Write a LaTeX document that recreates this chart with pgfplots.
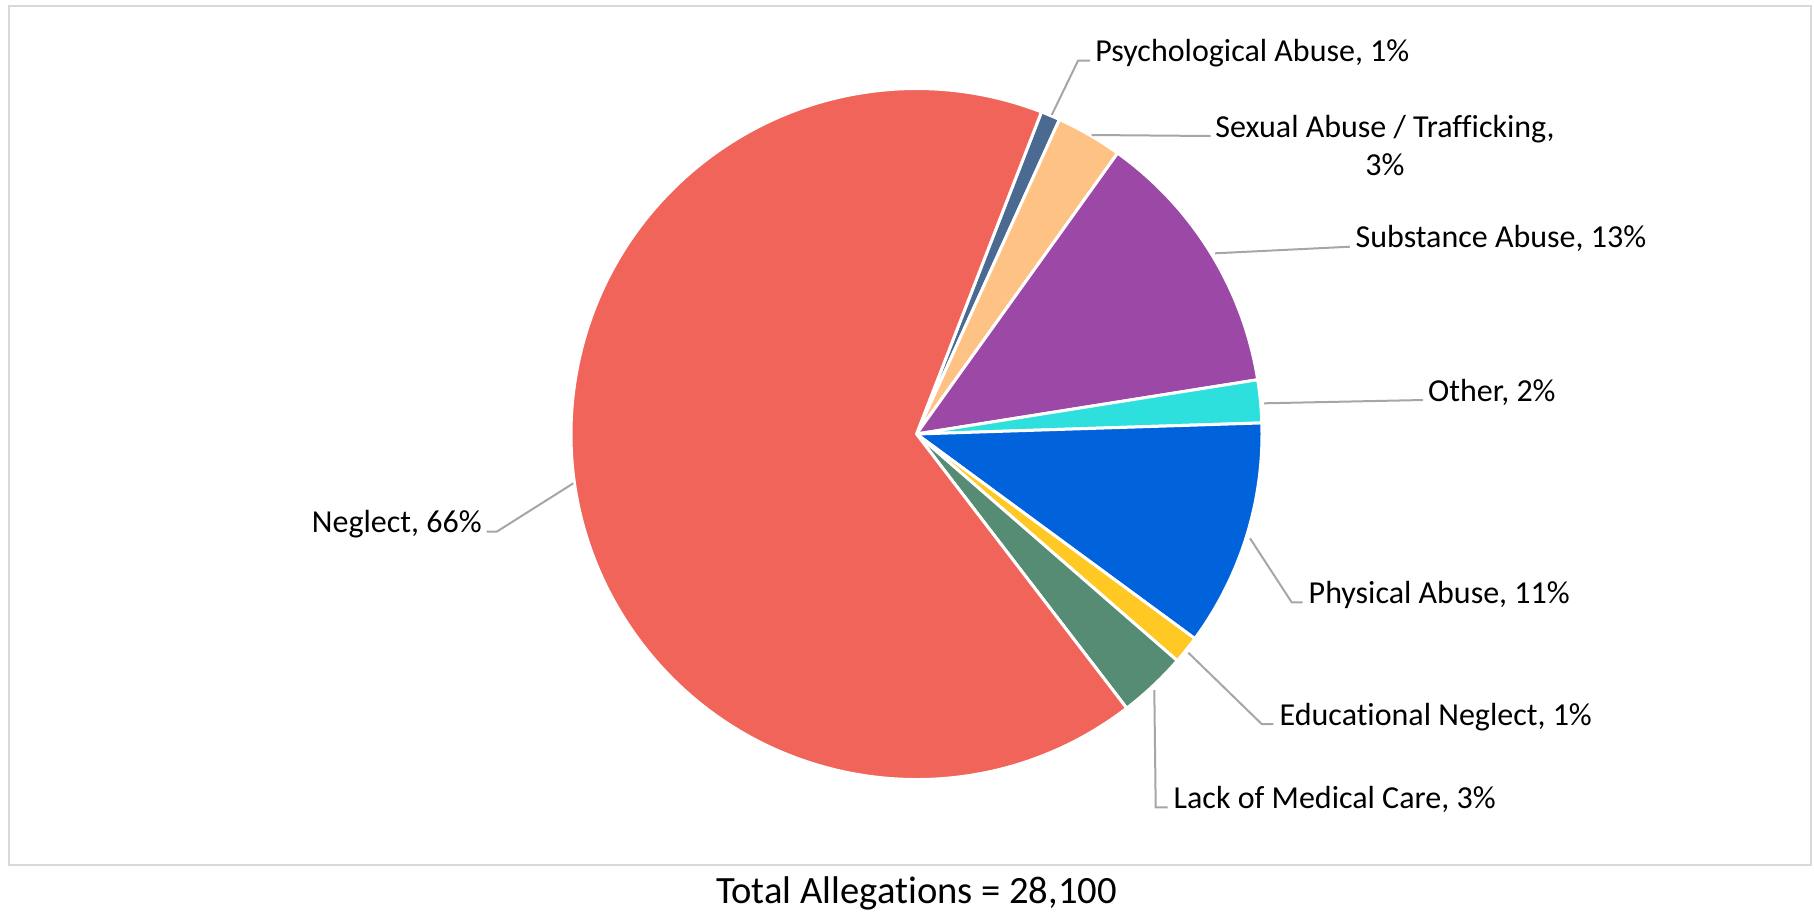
\documentclass[border=0pt]{standalone}
\usepackage{pgfplots}
\pgfplotsset{compat=1.18}
\usepackage{pgfplotstable}
\usepackage{fontspec}
\setmainfont{Carlito}[RawFeature={-liga}]

% slice colours, in table order
\definecolor{c0}{HTML}{4A6A92}
\definecolor{c1}{HTML}{FFC285}
\definecolor{c2}{HTML}{9B48A6}
\definecolor{c3}{HTML}{2DE0DE}
\definecolor{c4}{HTML}{0063DB}
\definecolor{c5}{HTML}{FFC823}
\definecolor{c6}{HTML}{558C73}
\definecolor{c7}{HTML}{F0645A}
\definecolor{leadgray}{HTML}{A6A6A6}
\definecolor{framegray}{HTML}{D9D9D9}

\tikzset{
    lab/.style={font=\fontsize{16}{19}\selectfont, inner sep=0pt, anchor=base west},
    leader/.style={leadgray, line width=1pt},
}

% share of all allegations (percent), clockwise from the first slice
\pgfplotstableread[col sep=comma]{
name,share
Psychological Abuse,0.9
Sexual Abuse / Trafficking,3.1
Substance Abuse,12.6
Other,2.0
Physical Abuse,10.6
Educational Neglect,1.3
Lack of Medical Care,3.2
Neglect,66.3
}\slices

\begin{document}
\begin{tikzpicture}
% start angles, end angles, rounded labels
\pgfmathsetmacro\cur{68.8}
\pgfplotsforeachungrouped \i in {0,...,7}{%
  \pgfplotstablegetelem{\i}{share}\of\slices
  \let\s\pgfplotsretval
  \expandafter\xdef\csname a\i\endcsname{\cur}%
  \pgfmathsetmacro\cur{\cur-3.6*\s}%
  \expandafter\xdef\csname b\i\endcsname{\cur}%
  \pgfmathtruncatemacro\p{round(\s)}%
  \expandafter\xdef\csname p\i\endcsname{\p}%
  \pgfplotstablegetelem{\i}{name}\of\slices
  \expandafter\xdef\csname n\i\endcsname{\pgfplotsretval}%
}
\begin{axis}[
    scale only axis,
    width=907pt, height=456pt,
    xmin=0, xmax=1814, ymin=0, ymax=912,
    y dir=reverse,
    hide axis,
    clip=false,
    ]
    \path (0,0) rectangle (1814,912);
    \draw[framegray, line width=1pt] (8.5,5.5) rectangle (1810.5,865);

    \pgfplotsinvokeforeach{0,...,7}{
        \fill[c#1, draw=white, line width=1.5pt, line join=round]
            (916.5,434) -- ++(\csname a#1\endcsname:172.75pt)
            arc[start angle=\csname a#1\endcsname, end angle=\csname b#1\endcsname, radius=172.75pt]
            -- cycle;
    }

    \draw[leader] (1051.7,115) -- (1078,60.7) -- (1090,60.7);
    \node[lab] at (1095,61.7) {\csname n0\endcsname, \csname p0\endcsname\%};

    \draw[leader] (1091.7,135) -- (1210.7,136);
    \node[lab] at (1215,137) {\csname n1\endcsname,};
    \node[lab, anchor=base] at (1385,175) {\csname p1\endcsname\%};

    \draw[leader] (1214.9,253.3) -- (1349.9,246.7);
    \node[lab] at (1355.2,247.5) {\csname n2\endcsname, \csname p2\endcsname\%};

    \draw[leader] (1264,403.3) -- (1422.9,400);
    \node[lab] at (1427.8,401) {\csname n3\endcsname, \csname p3\endcsname\%};

    \draw[leader] (1250,538.3) -- (1291.7,602.3) -- (1302.7,602.3);
    \node[lab] at (1308.3,603.3) {\csname n4\endcsname, \csname p4\endcsname\%};

    \draw[leader] (1188.3,652.7) -- (1261.7,724) -- (1273.3,724);
    \node[lab] at (1279.3,725) {\csname n5\endcsname, \csname p5\endcsname\%};

    \draw[leader] (1154.3,690) -- (1155.7,807.3) -- (1167.7,807.3);
    \node[lab] at (1173.3,808) {\csname n6\endcsname, \csname p6\endcsname\%};

    \draw[leader] (573.3,483.3) -- (496.7,531.7) -- (486.7,531.7);
    \node[lab, anchor=base east] at (482,532.5) {\csname n7\endcsname, \csname p7\endcsname\%};

    \node[font=\fontsize{19.3}{23}\selectfont, inner sep=0pt, anchor=base] at (916.5,903)
        {Total Allegations = 28,100};
\end{axis}
\end{tikzpicture}
\end{document}
